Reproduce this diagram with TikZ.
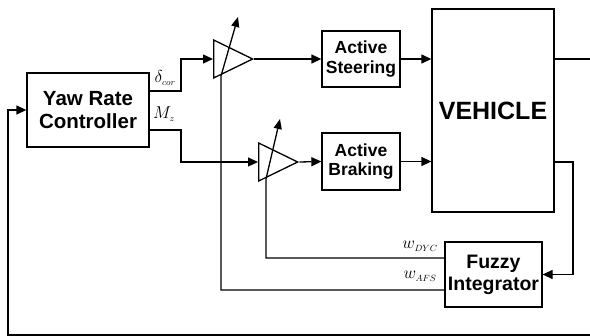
\documentclass[tikz,border=0pt]{standalone}
\usepackage{fontspec}
\setmainfont{Liberation Sans}
\usepackage{tikz}
\usetikzlibrary{arrows.meta, positioning}
\usetikzlibrary{shapes.geometric}
\usetikzlibrary{calc}

\tikzset{
  block/.style={draw, line width=1.3pt, align=center, inner sep=0pt, font=\bfseries},
  gain/.style={draw, line width=1.3pt, isosceles triangle, isosceles triangle stretches,
    minimum width=38pt, minimum height=39pt, inner sep=0pt, anchor=lower side},
  sig/.style={line width=1.3pt},
  arr/.style={sig, -{Triangle[length=10pt,width=9pt]}},
  tune/.style={sig, -{Triangle[length=10pt,width=8pt]}}
}

\begin{document}
\begin{tikzpicture}[x=1pt,y=-1pt]
            \useasboundingbox (0,0) rectangle (590,336);
            % blocks
            \node[block, minimum width=122pt, minimum height=74pt, font=\bfseries\fontsize{20.5}{23}\selectfont] (ctrl) at (88,110) {Yaw Rate\\Controller};
            \node[block, minimum width=78pt, minimum height=56pt, font=\bfseries\fontsize{17.5}{19.5}\selectfont] (steer) at (361,59) {Active\\Steering};
            \node[block, minimum width=78pt, minimum height=57pt, font=\bfseries\fontsize{17.5}{19.5}\selectfont] (brake) at (361,161.5) {Active\\Braking};
            \node[block, minimum width=122pt, minimum height=203pt, font=\bfseries\fontsize{25}{28}\selectfont] (veh) at (493,110.5) {VEHICLE};
            \node[block, minimum width=97pt, minimum height=65pt, font=\bfseries\fontsize{19.5}{22}\selectfont] (fuzzy) at (493.5,274.5) {Fuzzy\\Integrator};
            % gains
            \node[gain] (gA) at (213,59) {};
            \node[gain] (gB) at (258,162) {};
            \coordinate (dA) at (221,76);
            \coordinate (tA) at (238,17);
            \coordinate (dB) at (266,179);
            \coordinate (tB) at (280,119);
            \coordinate (outR) at (590,59);
            \coordinate (fbR) at (590,335);
            \coordinate (fbL) at (8,335);
            % signals
            \draw[arr] ($(ctrl.east)+(0,-19)$) -- (181,91) |- (gA.lower side);
            \draw[arr] ($(ctrl.east)+(0,20)$) -- (181,130) |- (gB.lower side);
            \draw[arr] (gA.apex) -- (steer.west);
            \draw[arr] (gB.apex) -- (brake.west);
            \draw[arr] (steer.east) -- (steer.east -| veh.west);
            \draw[arr] (brake.east) -- (brake.east -| veh.west);
            \draw[sig] (outR -| veh.east) -- (outR);
            \draw[arr] ($(veh.east)+(0,51.5)$) -- (573,162) |- (fuzzy.east);
            \draw[tune] ($(fuzzy.west)+(0,-16.5)$) -| (dB) -- (tB);
            \draw[tune] ($(fuzzy.west)+(0,15.5)$) -| (dA) -- (tA);
            \draw[arr] (fbR) -- (fbL) |- (ctrl.west);
            % labels
            \node (lcor) at (165,78) {\fontsize{19}{19}\selectfont$\delta_{\scriptscriptstyle cor}$};
            \node (lmz) at (164,114) {\fontsize{19}{19}\selectfont$M_{\scriptscriptstyle z}$};
            \node (ldyc) at (420,246) {\fontsize{18}{18}\selectfont$w_{\scriptscriptstyle DYC}$};
            \node (lafs) at (420,276) {\fontsize{18}{18}\selectfont$w_{\scriptscriptstyle AFS}$};
        \end{tikzpicture}
\end{document}
